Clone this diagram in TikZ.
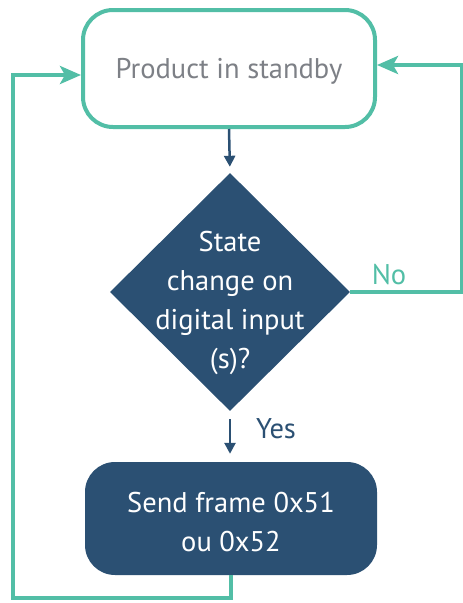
\documentclass[tikz,border=0pt]{standalone}
\usepackage{fontspec}
\setmainfont{PT Sans}
\usetikzlibrary{shapes.geometric,arrows.meta,calc}
\definecolor{teal1}{RGB}{82,190,166}
\definecolor{navy1}{RGB}{43,80,115}
\definecolor{gray1}{RGB}{125,128,134}
\tikzset{
  txt/.style={font=\fontsize{28.5}{39}\selectfont, align=center},
  tealarr/.style={draw=teal1, line width=4pt, -{Stealth[length=21pt,width=18pt,inset=5pt]}},
  navyarr/.style={draw=navy1, line width=2.5pt, -{Triangle[length=11pt,width=11pt]}},
}
\begin{document}
\begin{tikzpicture}[x=1pt,y=-1pt]
\useasboundingbox (0,0) rectangle (463,603);
\node[draw=teal1, line width=4pt, rounded corners=30pt, minimum width=292pt, minimum height=117pt, inner sep=0pt] (top) at (229,68.5) {};
\node[txt, text=gray1] (toptext) at (229,71) {Product in standby};
\node[diamond, fill=navy1, minimum width=240pt, minimum height=238pt, inner sep=0pt, aspect=1] (dia) at (230,292) {};
\node[txt, text=white] (diatext) at (230,303) {State\\change on\\digital input\\(s)?};
\node[fill=navy1, rounded corners=30pt, minimum width=292pt, minimum height=113pt, inner sep=0pt] (bot) at (231,518.5) {};
\node[txt, text=white] (bottext) at (231,522) {Send frame 0x51\\ou 0x52};
\node[txt, text=teal1, anchor=center] (no) at (389,275) {No};
\node[txt, text=navy1, anchor=center] (yes) at (276,429) {Yes};
\coordinate (nr) at (462,292);
\coordinate (lb) at (13,598);
\draw[navyarr, shorten >=6pt] (top.south) -- (dia.north);
\draw[navyarr, shorten <=8pt, shorten >=8pt] (dia.south) -- (dia.south |- bot.north);
\draw[tealarr] (dia.east) -- (nr) |- ([yshift=3.5pt]top.east);
\draw[tealarr] (bot.south) |- (lb) |- ([yshift=-6.5pt]top.west);
\end{tikzpicture}
\end{document}
